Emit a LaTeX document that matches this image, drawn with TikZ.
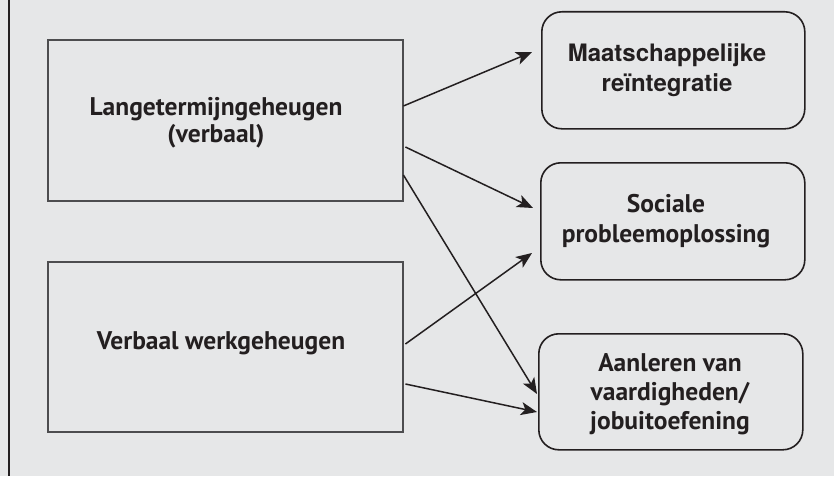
\documentclass[tikz,border=0pt]{standalone}
\usepackage{fontspec}
\usetikzlibrary{arrows.meta,calc}
\newfontfamily\myr{PT Sans}
\newfontfamily\hel{TeX Gyre Heros}
\definecolor{bgc}{HTML}{E6E7E8}
\definecolor{ink}{HTML}{231F20}
\definecolor{boxc}{HTML}{4D4D4F}
\begin{document}
\begin{tikzpicture}[x=1pt,y=-1pt,
  sqbox/.style={draw=boxc,line width=2pt,fill=none},
  rbox/.style={draw=ink,line width=1.6pt,rounded corners=20pt},
  lbl/.style={text=ink,align=center,anchor=base,inner sep=0pt,font=\myr\bfseries\fontsize{25.5}{27}\selectfont},
  hlbl/.style={text=ink,align=center,anchor=base,inner sep=0pt,font=\hel\bfseries\fontsize{24}{30}\selectfont},
  conn/.style={draw=ink,line width=1.5pt,-{Stealth[length=16pt,width=13pt,inset=4pt]}}]
\fill[bgc] (0,0) rectangle (834,476);
\useasboundingbox (0,0) rectangle (834,476);
\draw[ink,line width=2.5pt] (9,0) -- (9,476);
% boxes
\node[minimum width=355pt,minimum height=161pt,anchor=north west] (A) at (48,40) {};
\draw[sqbox] (A.north west) rectangle (A.south east);
\node[minimum width=355pt,minimum height=170pt,anchor=north west] (B) at (48,262) {};
\draw[sqbox] (B.north west) rectangle (B.south east);
\node[rbox,minimum width=263pt,minimum height=117pt,anchor=north west] (R1) at (541,11) {};
\node[rbox,minimum width=264pt,minimum height=117pt,anchor=north west] (R2) at (540,162) {};
\node[rbox,minimum width=264pt,minimum height=116pt,anchor=north west] (R3) at (538,333) {};
% labels (anchor = baseline of last line)
\node[lbl] (tA) at (216,142) {Langetermijngeheugen\\(verbaal)};
\node[lbl] (tB) at (221,349) {Verbaal werkgeheugen};
\node[hlbl] (t1) at (667,92) {Maatschappelijke\\reïntegratie};
\node[lbl,font=\myr\bfseries\fontsize{25.5}{30}\selectfont] (t2) at (666,242) {Sociale\\probleemoplossing};
\node[lbl,font=\myr\bfseries\fontsize{25.5}{29}\selectfont] (t3) at (670,429) {Aanleren van\\vaardigheden/\\jobuitoefening};
% connectors
\draw[conn] ($(A.north east)+(0,66)$) -- ($(R1.north west)+(-9,41)$);
\draw[conn] ($(A.north east)+(2,107)$) -- ($(R2.north west)+(-7,46)$);
\draw[conn] ($(A.north east)+(0,135)$) -- ($(R3.north west)+(-1,61)$);
\draw[conn] ($(B.north east)+(2,82)$) -- ($(R2.north west)+(-8,91)$);
\draw[conn] ($(B.north east)+(2,122)$) -- ($(R3.north west)+(-1,79)$);
\end{tikzpicture}
\end{document}
